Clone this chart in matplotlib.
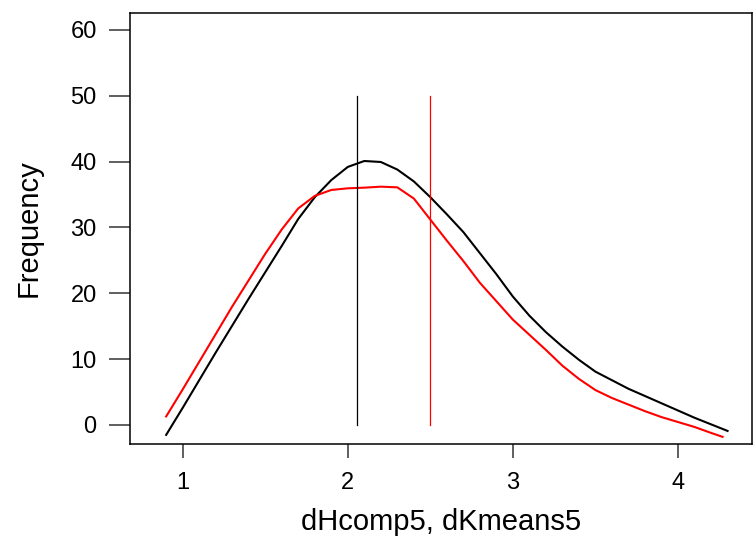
import matplotlib
matplotlib.use("Agg")
import matplotlib.pyplot as plt

plt.rcParams['font.family'] = ['Liberation Sans', 'DejaVu Sans']

# Black curve (dHcomp5)
x_black = [0.9, 1.0, 1.1, 1.2, 1.3, 1.4, 1.5, 1.6, 1.7, 1.8, 1.9, 2.0, 2.1, 2.2,
           2.3, 2.4, 2.5, 2.6, 2.7, 2.8, 2.9, 3.0, 3.1, 3.2, 3.3, 3.4, 3.5, 3.6,
           3.7, 3.8, 3.9, 4.0, 4.1, 4.2, 4.3]
y_black = [-1.5, 2.6, 6.8, 11.0, 15.1, 19.2, 23.2, 27.2, 31.3, 34.6, 37.2, 39.2,
           40.1, 39.95, 38.8, 37.0, 34.6, 32.0, 29.3, 26.1, 22.9, 19.5, 16.6,
           14.1, 11.9, 9.9, 8.1, 6.8, 5.5, 4.4, 3.3, 2.2, 1.1, 0.1, -0.9]

# Red curve (dKmeans5)
x_red = [0.9, 1.0, 1.1, 1.2, 1.3, 1.4, 1.5, 1.6, 1.7, 1.8, 1.9, 2.0, 2.1, 2.2,
         2.3, 2.4, 2.5, 2.6, 2.7, 2.8, 2.9, 3.0, 3.1, 3.2, 3.3, 3.4, 3.5, 3.6,
         3.7, 3.8, 3.9, 4.0, 4.1, 4.2, 4.27]
y_red = [1.3, 5.4, 9.6, 13.8, 18.0, 22.0, 26.0, 29.7, 32.9, 34.8, 35.7, 35.95,
         36.05, 36.2, 36.1, 34.4, 31.2, 28.0, 24.9, 21.6, 18.8, 16.0, 13.7,
         11.4, 9.0, 7.0, 5.3, 4.1, 3.1, 2.1, 1.2, 0.45, -0.3, -1.2, -1.8]

# Vertical reference lines (means)
vline_x = [2.056, 2.498]
vline_colors = ['black', 'red']
vline_top = 50

x_ticks = [1, 2, 3, 4]
y_ticks = [0, 10, 20, 30, 40, 50, 60]
x_label = "dHcomp5, dKmeans5"
y_label = "Frequency"

fig = plt.figure(figsize=(7.53, 5.37), dpi=100)
ax = fig.add_axes([130/753, 1 - 444/537, (752 - 130)/753, (444 - 13)/537])

ax.plot(x_black, y_black, color='black', lw=1.5, solid_joinstyle='round')
ax.plot(x_red, y_red, color='red', lw=1.5, solid_joinstyle='round')
for xv, c in zip(vline_x, vline_colors):
    ax.plot([xv, xv], [0, vline_top], color=c, lw=0.9)

ax.set_xlim(0.681, 4.448)
ax.set_ylim(-2.886, 62.58)
ax.set_xticks(x_ticks)
ax.set_xticklabels([str(t) for t in x_ticks])
ax.set_yticks(y_ticks)
ax.set_yticklabels([str(t) for t in y_ticks])

ax.tick_params(axis='x', length=10, width=1.2, color='#444444', pad=10, labelsize=17)
ax.tick_params(axis='y', length=15, width=1.2, color='#444444', pad=9, labelsize=17)

for s in ax.spines.values():
    s.set_linewidth(1.1)
    s.set_color('black')

ax.set_xlabel(x_label, fontsize=21, labelpad=10)
ax.set_ylabel(y_label, fontsize=21, labelpad=20)

fig.savefig("out.png", dpi=100)
